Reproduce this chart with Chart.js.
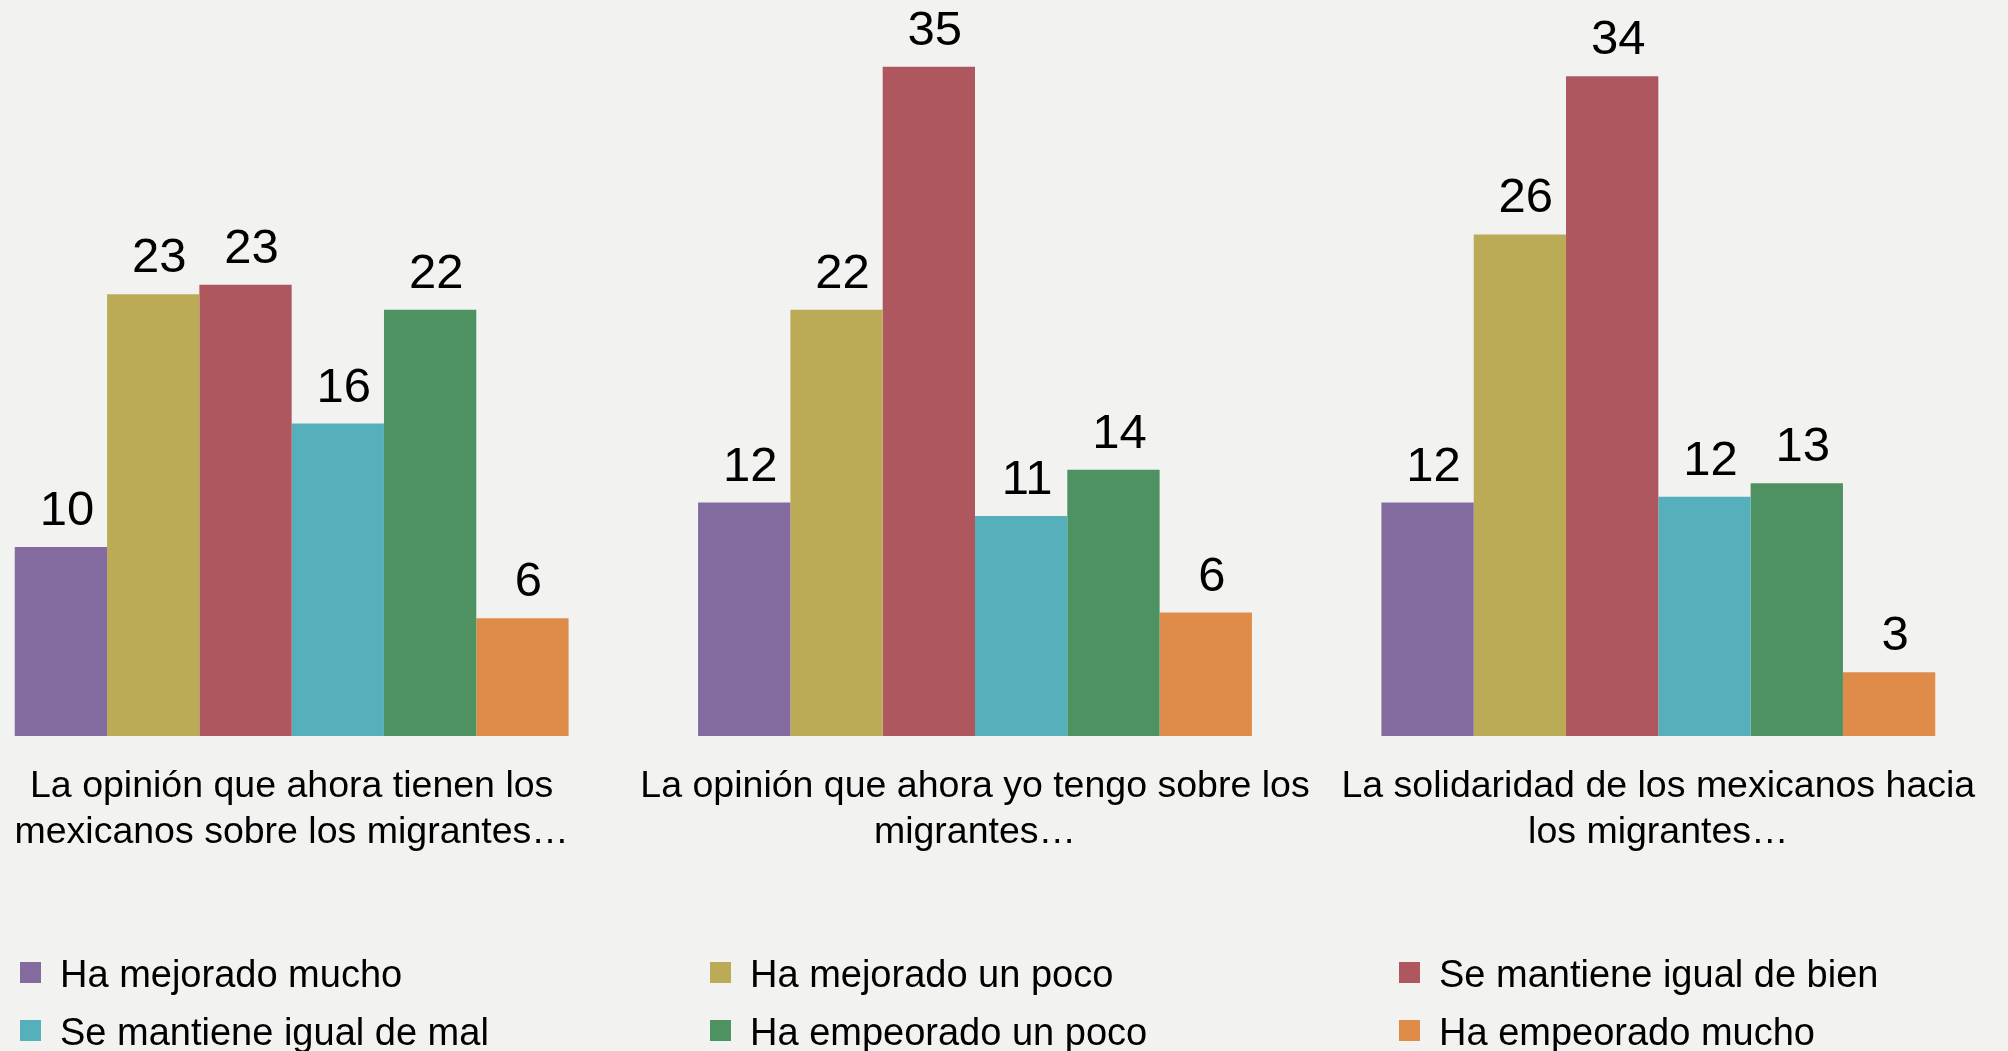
<!DOCTYPE html>
<html>
<head>
<meta charset="utf-8">
<script src="https://cdn.jsdelivr.net/npm/chart.js@4/dist/chart.umd.min.js"></script>
<style>
  html, body { margin: 0; padding: 0; background: #f2f2f0; overflow: hidden; }
  #wrap { position: relative; width: 2008px; height: 1051px; overflow: hidden; }
  #chart { position: absolute; left: -50px; top: 0; }
</style>
</head>
<body>
<div id="wrap"><canvas id="chart" width="2058" height="1051"></canvas></div>
<script>
// Categories (each a two-line label under its group)
const categories = [
  ["La opinión que ahora tienen los", "mexicanos sobre los migrantes…"],
  ["La opinión que ahora yo tengo sobre los", "migrantes…"],
  ["La solidaridad de los mexicanos hacia", "los migrantes…"]
];

// Series names
const seriesNames = [
  "Ha mejorado mucho",
  "Ha mejorado un poco",
  "Se mantiene igual de bien",
  "Se mantiene igual de mal",
  "Ha empeorado un poco",
  "Ha empeorado mucho"
];

// Values (labels show them rounded)
const mejoradoMucho = [9.8, 12.1, 12.1];
const mejoradoPoco = [22.9, 22.1, 26.0];
const igualBien = [23.4, 34.7, 34.2];
const igualMal = [16.2, 11.4, 12.4];
const empeoradoPoco = [22.1, 13.8, 13.1];
const empeoradoMucho = [6.1, 6.4, 3.3];

const seriesColors = ["#836ba0", "#bcab56", "#ae575e", "#56b0bc", "#4e9262", "#df8c4b"];

const allSeries = [mejoradoMucho, mejoradoPoco, igualBien, igualMal, empeoradoPoco, empeoradoMucho];

const SHIFT = 50; // canvas sits 50px left of the page

// numbers above each bar
const valueLabels = {
  id: "valueLabels",
  afterDatasetsDraw(chart) {
    const ctx = chart.ctx;
    ctx.save();
    ctx.fillStyle = "#000";
    ctx.font = "49px 'Liberation Sans'";
    ctx.textAlign = "center";
    ctx.textBaseline = "alphabetic";
    chart.data.datasets.forEach((ds, i) => {
      chart.getDatasetMeta(i).data.forEach((bar, j) => {
        ctx.fillText(Math.round(ds.data[j]), bar.x + 6, bar.y - 22);
      });
    });
    ctx.restore();
  }
};

// legend in three columns, two rows
const gridLegend = {
  id: "gridLegend",
  afterDraw(chart) {
    const ctx = chart.ctx;
    const colX = [20, 710, 1399];
    const rowY = [987, 1045];
    ctx.save();
    ctx.font = "38px 'Liberation Sans'";
    ctx.textBaseline = "alphabetic";
    ctx.textAlign = "left";
    chart.data.datasets.forEach((ds, i) => {
      const x = colX[i % 3] + SHIFT;
      const y = rowY[Math.floor(i / 3)];
      ctx.fillStyle = ds.backgroundColor;
      ctx.fillRect(x, y - 25, 21, 21);
      ctx.fillStyle = "#000";
      ctx.fillText(ds.label, x + 40, y);
    });
    ctx.restore();
  }
};

const ctx = document.getElementById("chart").getContext("2d");
new Chart(ctx, {
  type: "bar",
  data: {
    labels: categories,
    datasets: seriesNames.map((name, i) => ({
      label: name,
      data: allSeries[i],
      backgroundColor: seriesColors[i],
      borderWidth: 0,
      categoryPercentage: 0.8105,
      barPercentage: 1.0
    }))
  },
  options: {
    responsive: false,
    animation: false,
    layout: { padding: { top: 3, right: 8, bottom: 0, left: 0 } },
    plugins: {
      legend: { display: false },
      tooltip: { enabled: false }
    },
    scales: {
      x: {
        grid: { display: false, drawTicks: false },
        border: { display: false },
        ticks: {
          color: "#000",
          padding: 28,
          maxRotation: 0,
          autoSkip: false,
          font: { family: "'Liberation Sans'", size: 37.5, lineHeight: 1.22 }
        },
        afterFit(scale) { scale.height = 1051 - 736; }
      },
      y: {
        display: false,
        min: 0,
        max: 38
      }
    }
  },
  plugins: [valueLabels, gridLegend]
});
</script>
</body>
</html>
